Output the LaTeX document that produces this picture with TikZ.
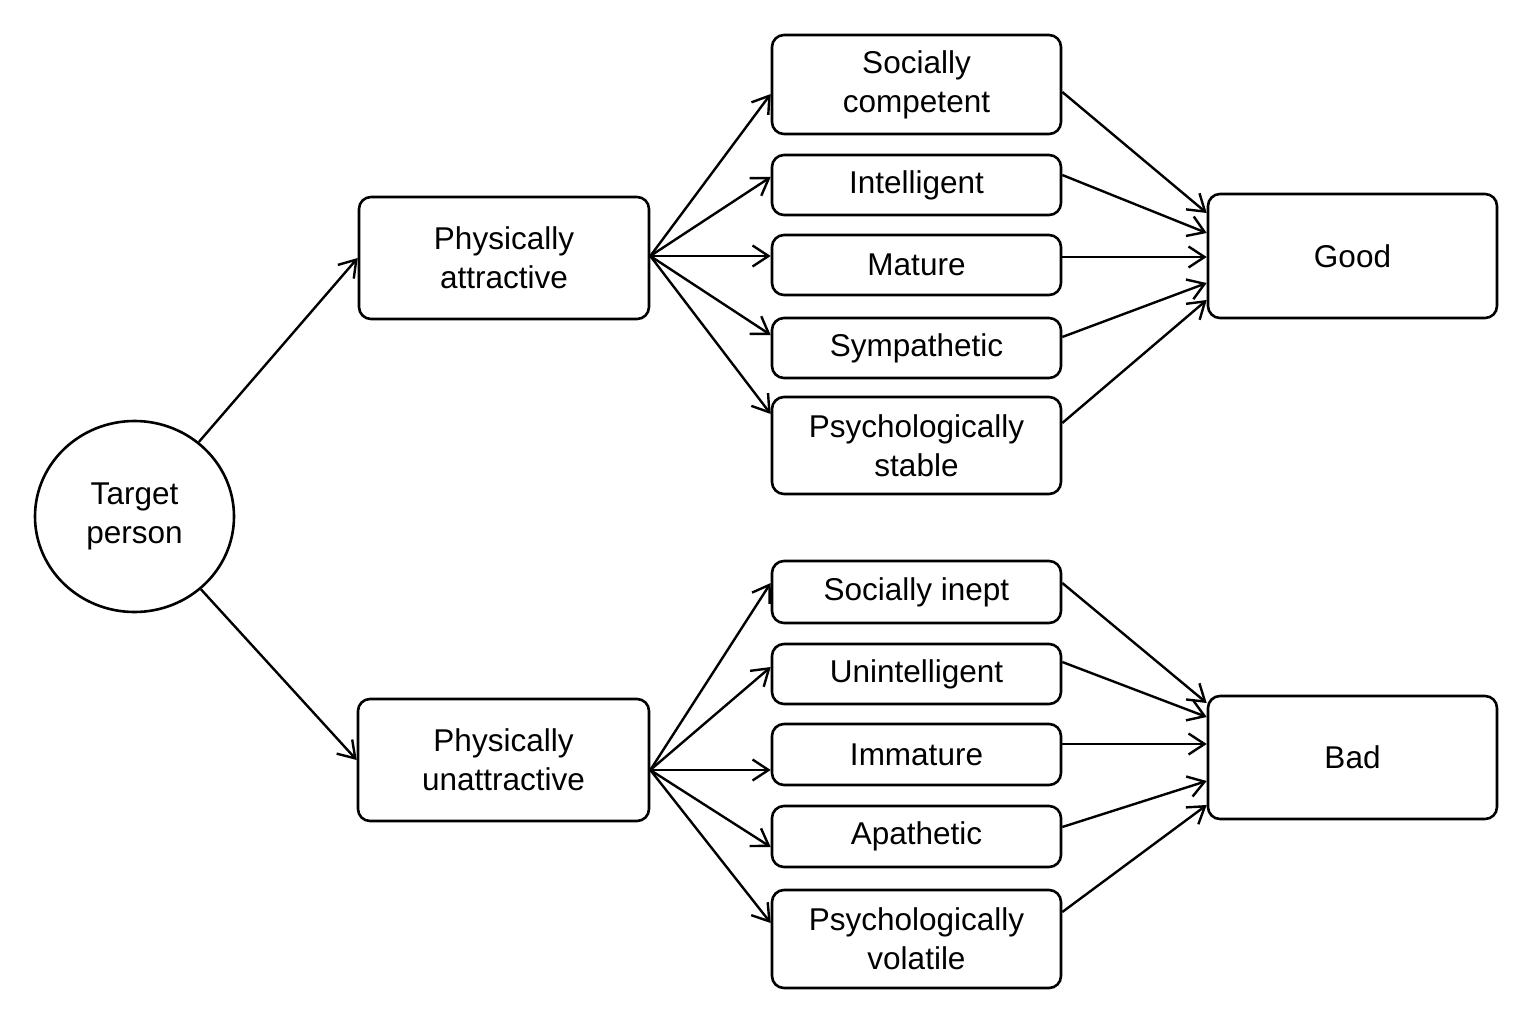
\documentclass[tikz,border=0pt]{standalone}
\usepackage{fontspec}
\setmainfont{Liberation Sans}
\usetikzlibrary{arrows.meta,shapes.geometric}
\begin{document}
\begin{tikzpicture}[x=1pt,y=-1pt,
  txt/.style={align=center,inner sep=0pt,font=\fontsize{31.5}{39}\selectfont},
  box/.style={txt,draw,line width=2.6pt,rounded corners=12pt,minimum width=289pt},
  arr/.style={line width=2.4pt,-{Straight Barb[length=16pt,width=21pt,line width=2.4pt]}},
]
\useasboundingbox[fill=white] (0,0) rectangle (1536,1024);
% target
\node[txt,draw,ellipse,line width=2.6pt,minimum width=199pt,minimum height=191pt] (tp) at (134.5,516.5) {Target\\person};
% level 1
\node[box,minimum width=290pt,minimum height=122pt] (pa) at (504,258) {Physically\\attractive};
\node[box,minimum width=291pt,minimum height=122pt] (pu) at (503.5,760) {Physically\\unattractive};
% upper traits
\node[box,minimum height=99pt] (sc) at (916.5,84.5) {Socially\\competent};
\node[box,minimum height=60pt] (in) at (916.5,185) {Intelligent};
\node[box,minimum height=60pt] (ma) at (916.5,265) {Mature};
\node[box,minimum height=60pt] (sy) at (916.5,348) {Sympathetic};
\node[box,minimum height=97pt] (ps) at (916.5,445.5) {Psychologically\\stable};
% lower traits
\node[box,minimum height=62pt] (si) at (916.5,592) {Socially inept};
\node[box,minimum height=60pt] (un) at (916.5,674) {Unintelligent};
\node[box,minimum height=61pt] (im) at (916.5,754.5) {Immature};
\node[box,minimum height=61pt] (ap) at (916.5,836.5) {Apathetic};
\node[box,minimum height=98pt] (pv) at (916.5,939) {Psychologically\\volatile};
% outcomes
\node[box,minimum height=124pt] (good) at (1352.5,256) {Good};
\node[box,minimum height=123pt] (bad) at (1352.5,757.5) {Bad};
% target to level 1
\draw[arr] (tp) -- (pa.west);
\draw[arr] (tp) -- (pu.west);
% upper fan
\coordinate (pao) at ([yshift=2pt]pa.east);
\draw[arr] (pao) -- ([yshift=-9.5pt]sc.west);
\draw[arr] (pao) -- ([yshift=8pt]in.west);
\draw[arr] (pao) -- ([yshift=9pt]ma.west);
\draw[arr] (pao) -- ([yshift=13pt]sy.west);
\draw[arr] (pao) -- ([yshift=31.5pt]ps.west);
% upper to good
\draw[arr] ([yshift=-7.5pt]sc.east) -- ([yshift=43pt]good.west);
\draw[arr] ([yshift=10pt]in.east) -- ([yshift=23pt]good.west);
\draw[arr] ([yshift=8pt]ma.east) -- ([yshift=-1pt]good.west);
\draw[arr] ([yshift=11pt]sy.east) -- ([yshift=-27pt]good.west);
\draw[arr] ([yshift=22.5pt]ps.east) -- ([yshift=-44pt]good.west);
% lower fan
\coordinate (puo) at ([yshift=-10pt]pu.east);
\draw[arr] (puo) -- ([yshift=9pt]si.west);
\draw[arr] (puo) -- ([yshift=7pt]un.west);
\draw[arr] (puo) -- ([yshift=-15.5pt]im.west);
\draw[arr] (puo) -- ([yshift=-10.5pt]ap.west);
\draw[arr] (puo) -- ([yshift=16pt]pv.west);
% lower to bad
\draw[arr] ([yshift=9pt]si.east) -- ([yshift=54.5pt]bad.west);
\draw[arr] ([yshift=12pt]un.east) -- ([yshift=40.5pt]bad.west);
\draw[arr] ([yshift=10.5pt]im.east) -- ([yshift=13.5pt]bad.west);
\draw[arr] ([yshift=9.5pt]ap.east) -- ([yshift=-23.5pt]bad.west);
\draw[arr] ([yshift=27pt]pv.east) -- ([yshift=-47.5pt]bad.west);
\end{tikzpicture}
\end{document}
